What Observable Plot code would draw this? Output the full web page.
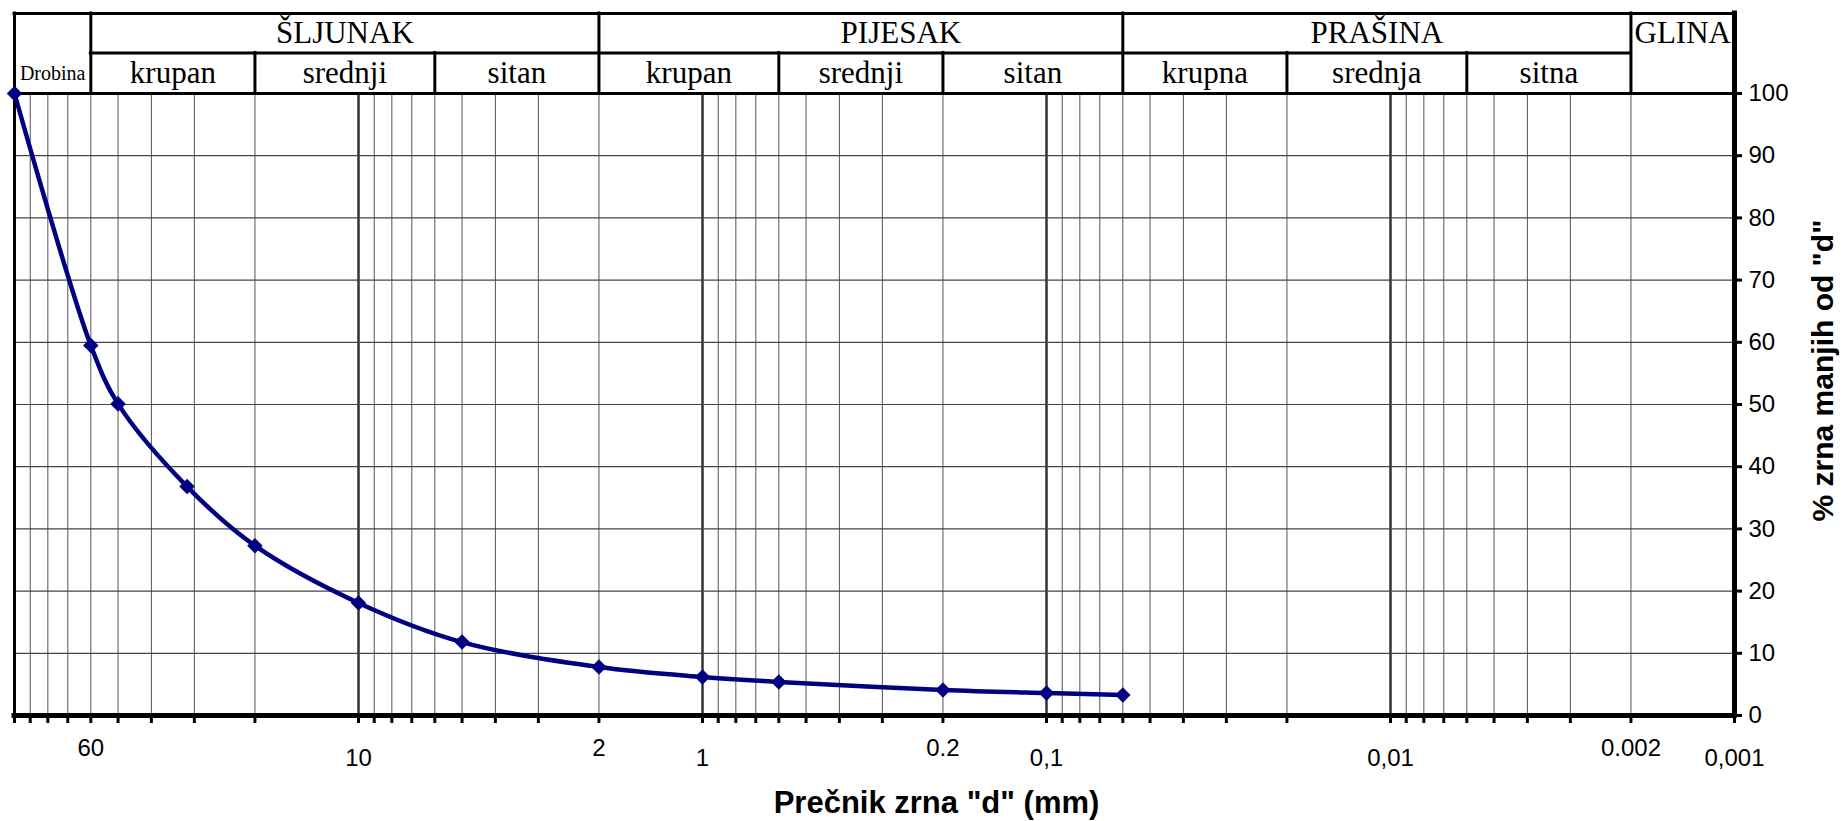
<!DOCTYPE html>
<html><head><meta charset="utf-8">
<script src="https://cdn.jsdelivr.net/npm/d3@7"></script>
<script src="https://cdn.jsdelivr.net/npm/@observablehq/plot@0.6"></script>
<style>
html,body{margin:0;padding:0;background:#fff;}
#chart svg{display:block;overflow:visible;}
</style></head>
<body><div id="chart"></div>
<script>
// ---- data ----
const grainSize    = [100, 60, 50, 31.5, 20, 10, 5, 2, 1, 0.6, 0.2, 0.1, 0.06];
const percentFiner = [100, 59.5, 50.1, 36.8, 27.3, 18.1, 11.8, 7.8, 6.2, 5.4, 4.1, 3.6, 3.3];
const xTickValues  = [60, 10, 2, 1, 0.2, 0.1, 0.01, 0.002, 0.001];
const xTickLabels  = ["60", "10", "2", "1", "0.2", "0,1", "0,01", "0.002", "0,001"];
const yTickValues  = [0, 10, 20, 30, 40, 50, 60, 70, 80, 90, 100];
const mainNames    = ["ŠLJUNAK", "PIJESAK", "PRAŠINA"];
const mainBounds   = [60, 2, 0.06, 0.002];
const subNames     = ["krupan", "srednji", "sitan", "krupan", "srednji", "sitan", "krupna", "srednja", "sitna"];
const subBounds    = [60, 20, 6, 2, 0.6, 0.2, 0.06, 0.02, 0.006, 0.002];
const edgeNames    = ["Drobina", "GLINA"];
const edgeBounds   = [[100, 60], [0.002, 0.001]];
const xDomain      = [100, 0.001];
const xTitle = 'Prečnik zrna "d" (mm)';
const yTitle = '% zrna manjih od "d"';

// ---- layout ----
const W = 1842, H = 821, mL = 14, mR = 108, mT = 93, mB = 106;
const px = (H - mT - mB) / 100;          // pixels per percent
const headerMid = 100 + 40.5 / px;
const headerTop = 100 + 80 / px;
const row1 = 100 + 60 / px, row2 = 100 + 20 / px;
const pijesakShift = 40;                  // the reference's PIJESAK label sits right of its cell centre
const serif = "'Liberation Serif', 'Times New Roman', serif";
const sans = "'Liberation Sans', Arial, sans-serif";

const gridTicks = d3.scaleLog().domain([0.001, 100]).ticks();
const decades = gridTicks.filter(v => Number.isInteger(Math.log10(v)) && v < 100 && v > 0.001);
const gmean = (a, b) => Math.sqrt(a * b);
const mainCells = mainNames.map((n, i) => ({n, x: gmean(mainBounds[i], mainBounds[i + 1])}));
const subCells = subNames.map((n, i) => ({n, x: gmean(subBounds[i], subBounds[i + 1])}));
const subSeps = subBounds.filter(v => !mainBounds.includes(v));
const pts = grainSize.map((d, i) => ({d, p: percentFiner[i]}));
const xTicks = xTickValues.map((v, i) => ({v, label: xTickLabels[i], dec: Number.isInteger(Math.log10(v))}));
const headText = {fontFamily: serif, fontSize: 31, fill: "#000", textAnchor: "middle", lineAnchor: "middle"};

const chart = Plot.plot({
  width: W, height: H,
  marginLeft: mL, marginRight: mR, marginTop: mT, marginBottom: mB,
  style: {fontFamily: sans, fontSize: "24px", background: "#fff", color: "#000"},
  x: {type: "log", domain: xDomain, axis: null},
  y: {domain: [0, 100], axis: null},
  marks: [
    // grid
    Plot.ruleX(gridTicks, {y1: 0, y2: 100, stroke: "#555", strokeWidth: 1}),
    Plot.ruleX(decades, {y1: 0, y2: 100, stroke: "#333", strokeWidth: 2.5}),
    Plot.ruleY(yTickValues.filter(v => v > 0 && v < 100), {x1: xDomain[0], x2: xDomain[1], stroke: "#444", strokeWidth: 1.2}),
    // header frame
    Plot.ruleY([headerTop, 100], {x1: xDomain[0], x2: xDomain[1], stroke: "#000", strokeWidth: 3, strokeLinecap: "square"}),
    Plot.ruleY([headerMid], {x1: mainBounds[0], x2: mainBounds[mainBounds.length - 1], stroke: "#000", strokeWidth: 3, strokeLinecap: "square"}),
    Plot.ruleX(mainBounds, {y1: 100, y2: headerTop, stroke: "#000", strokeWidth: 3, strokeLinecap: "square"}),
    Plot.ruleX(subSeps, {y1: 100, y2: headerMid, stroke: "#000", strokeWidth: 3, strokeLinecap: "square"}),
    Plot.ruleX([xDomain[0]], {y1: 0, y2: headerTop, stroke: "#000", strokeWidth: 3, strokeLinecap: "square"}),
    Plot.ruleX([xDomain[1]], {y1: 0, y2: headerTop, stroke: "#000", strokeWidth: 5, strokeLinecap: "square"}),
    Plot.text(mainCells.filter(c => c.n !== "PIJESAK"), {x: "x", y: row1, text: "n", ...headText}),
    Plot.text(mainCells.filter(c => c.n === "PIJESAK"), {x: "x", y: row1, text: "n", dx: pijesakShift, ...headText}),
    Plot.text(subCells, {x: "x", y: row2, text: "n", ...headText}),
    Plot.text([edgeNames[0]], {x: gmean(...edgeBounds[0]), y: row2, text: d => d, ...headText, fontSize: 20}),
    Plot.text([edgeNames[1]], {x: gmean(...edgeBounds[1]), y: row1, text: d => d, ...headText}),
    // axes
    Plot.axisX({ticks: gridTicks, tickFormat: () => "", tickSize: 8, strokeWidth: 3, label: null}),
    Plot.ruleY([0], {x1: xDomain[0], x2: xDomain[1], stroke: "#000", strokeWidth: 5, strokeLinecap: "square"}),
    Plot.axisY({anchor: "right", ticks: yTickValues, tickSize: 7, tickPadding: 7, fontSize: 24, strokeWidth: 3, label: null}),
    Plot.text(xTicks.filter(t => !t.dec), {x: "v", y: 0, text: "label", dy: 33, fontSize: 24, textAnchor: "middle", lineAnchor: "middle", fill: "#000"}),
    Plot.text(xTicks.filter(t => t.dec), {x: "v", y: 0, text: "label", dy: 43, fontSize: 24, textAnchor: "middle", lineAnchor: "middle", fill: "#000"}),
    Plot.text([xTitle], {frameAnchor: "bottom", text: d => d, dx: 62, dy: 88, fontSize: 31, fontWeight: "bold", textAnchor: "middle", lineAnchor: "middle", fill: "#000"}),
    Plot.text([yTitle], {frameAnchor: "right", text: d => d, rotate: -90, dx: 89, dy: -34, fontSize: 30, fontWeight: "bold", textAnchor: "middle", lineAnchor: "middle", fill: "#000"}),
    // data
    Plot.line(pts, {x: "d", y: "p", curve: "catmull-rom", stroke: "#000080", strokeWidth: 4.5}),
    Plot.dot(pts, {x: "d", y: "p", symbol: "diamond2", r: 7, fill: "#000080", stroke: "none"})
  ]
});
document.getElementById("chart").appendChild(chart);
</script>
</body></html>
